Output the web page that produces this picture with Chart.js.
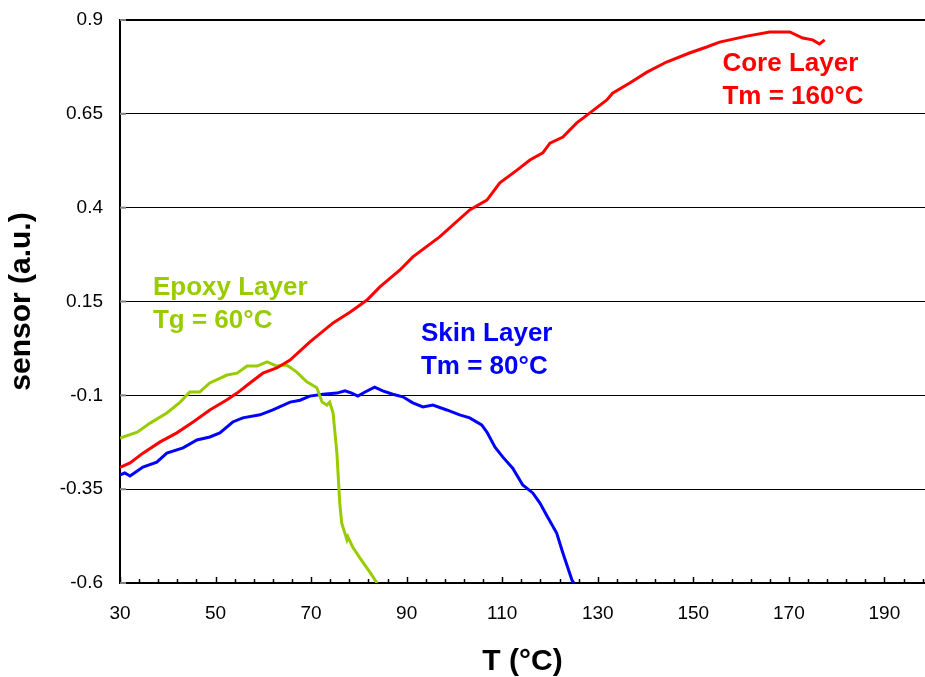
<!DOCTYPE html>
<html><head><meta charset="utf-8">
<script src="https://cdn.jsdelivr.net/npm/chart.js@4"></script>
<style>html,body{margin:0;padding:0;background:#fff}</style>
</head><body>
<canvas id="c" width="925" height="677"></canvas>
<script>
const xTicks = [30, 50, 70, 90, 110, 130, 150, 170, 190];
const yTicks = [-0.6, -0.35, -0.1, 0.15, 0.4, 0.65, 0.9];

const coreT = [30, 32.1, 34.8, 38.4, 41.9, 45.3, 48.8, 52.4, 54.5, 57.2, 59.9, 62.8, 65.6, 69.7, 74.6, 78.2, 81.7, 84.4, 88.6, 91.3, 96.9, 103.2, 106.8, 109.5, 113.1, 115.8, 118.5, 120.0, 122.7, 125.6, 128.3, 131.9, 133.1, 136.7, 140.3, 144.4, 149.2, 152.8, 155.5, 161.2, 166.0, 170.2, 172.9, 175.0, 176.4, 177.5];
const coreV = [-0.292, -0.280, -0.254, -0.224, -0.200, -0.171, -0.139, -0.112, -0.094, -0.067, -0.041, -0.027, -0.006, 0.042, 0.093, 0.122, 0.154, 0.189, 0.234, 0.269, 0.322, 0.394, 0.420, 0.466, 0.500, 0.527, 0.546, 0.572, 0.588, 0.626, 0.652, 0.687, 0.705, 0.732, 0.761, 0.788, 0.812, 0.828, 0.841, 0.857, 0.868, 0.868, 0.852, 0.847, 0.836, 0.847];

const epoxyT = [30, 33.6, 36.3, 39.8, 42.6, 44.6, 46.7, 48.8, 52.4, 54.5, 56.6, 58.7, 60.8, 62.8, 64.9, 67.0, 69.1, 71.2, 72.3, 73.3, 73.9, 74.6, 75.4, 76.0, 76.4, 77.5, 77.7, 78.7, 80.2, 82.3, 83.8];
const epoxyV = [-0.214, -0.198, -0.174, -0.147, -0.118, -0.091, -0.091, -0.067, -0.046, -0.041, -0.022, -0.022, -0.011, -0.022, -0.019, -0.038, -0.064, -0.080, -0.118, -0.126, -0.118, -0.147, -0.254, -0.387, -0.440, -0.485, -0.477, -0.504, -0.533, -0.571, -0.600];

const skinT = [30, 31.0, 32.1, 34.8, 37.7, 39.8, 43.2, 46.1, 48.8, 50.9, 53.6, 55.7, 59.3, 62.0, 65.6, 67.7, 69.7, 72.5, 75.4, 77.1, 78.5, 79.8, 81.3, 83.3, 85.0, 87.1, 89.2, 91.3, 93.4, 95.5, 98.4, 101.1, 103.2, 105.7, 106.8, 108.5, 110.1, 112.2, 114.3, 116.4, 117.9, 119.5, 121.4, 122.7, 124.6, 125.0];
const skinV = [-0.312, -0.307, -0.315, -0.291, -0.278, -0.254, -0.240, -0.219, -0.211, -0.200, -0.171, -0.160, -0.152, -0.139, -0.118, -0.113, -0.102, -0.097, -0.094, -0.088, -0.094, -0.102, -0.091, -0.078, -0.088, -0.097, -0.104, -0.120, -0.131, -0.126, -0.139, -0.152, -0.160, -0.179, -0.198, -0.238, -0.264, -0.294, -0.339, -0.360, -0.387, -0.424, -0.467, -0.520, -0.592, -0.600];

const RED = '#FF0000', GREEN = '#99CC00', BLUE = '#0000FF';
const FONT = "'Liberation Sans', Arial, Helvetica, sans-serif";

const notes = [
  { lines: ['Core Layer', 'Tm = 160°C'], color: RED, t: 156.1, v: 0.764 },
  { lines: ['Epoxy Layer', 'Tg = 60°C'], color: GREEN, t: 36.9, v: 0.167 },
  { lines: ['Skin Layer', 'Tm = 80°C'], color: BLUE, t: 93.0, v: 0.045 }
];

const pts = (T, V) => T.map((t, i) => ({ x: t, y: V[i] }));

const decor = {
  id: 'decor',
  beforeDatasetsDraw(chart) {
    const { ctx, scales: { x, y }, chartArea: ca } = chart;
    ctx.save();
    ctx.strokeStyle = '#000';
    ctx.lineWidth = 1.5;
    for (let v = x.min; v <= x.max + 1e-9; v += 4) {
      const px = Math.round(x.getPixelForValue(v)) + 0.5;
      const major = Math.abs(((v - 30) % 20)) < 1e-6;
      ctx.beginPath();
      ctx.moveTo(px, ca.bottom);
      ctx.lineTo(px, ca.bottom - (major ? 6 : 4));
      ctx.stroke();
    }
    ctx.strokeStyle = '#808080';
    ctx.lineWidth = 2;
    yTicks.forEach(v => {
      const py = y.getPixelForValue(v);
      ctx.beginPath();
      ctx.moveTo(ca.left, py);
      ctx.lineTo(ca.left + 6, py);
      ctx.stroke();
    });
    ctx.restore();
  },
  afterDraw(chart) {
    const { ctx, scales: { x, y } } = chart;
    ctx.save();
    ctx.font = `bold 26px ${FONT}`;
    ctx.textBaseline = 'alphabetic';
    ctx.textAlign = 'left';
    notes.forEach(n => {
      ctx.fillStyle = n.color;
      const px = x.getPixelForValue(n.t), py = y.getPixelForValue(n.v);
      n.lines.forEach((s, i) => ctx.fillText(s, px, py + i * 33));
    });
    ctx.restore();
  }
};

new Chart(document.getElementById('c'), {
  type: 'line',
  data: {
    datasets: [
      { label: 'Core Layer', data: pts(coreT, coreV), borderColor: RED },
      { label: 'Epoxy Layer', data: pts(epoxyT, epoxyV), borderColor: GREEN },
      { label: 'Skin Layer', data: pts(skinT, skinV), borderColor: BLUE }
    ]
  },
  options: {
    responsive: false,
    animation: false,
    layout: { padding: { top: 20, left: 0, right: 0, bottom: 0 } },
    elements: {
      line: { borderWidth: 3, tension: 0, fill: false },
      point: { radius: 0, hoverRadius: 0 }
    },
    plugins: { legend: { display: false }, tooltip: { enabled: false } },
    scales: {
      x: {
        type: 'linear',
        min: 30, max: 198.5,
        afterBuildTicks: s => { s.ticks = xTicks.map(v => ({ value: v })); },
        afterFit: s => { s.height = 94; s.paddingLeft = 0; s.paddingRight = 0; },
        grid: { display: false, drawTicks: false },
        border: { display: true, color: '#000', width: 2 },
        ticks: {
          padding: 21,
          color: '#000',
          font: { family: FONT, size: 19, lineHeight: 1 },
          maxRotation: 0, autoSkip: false,
          callback: v => String(v)
        },
        title: {
          display: true, text: 'T (°C)', color: '#000',
          font: { family: FONT, size: 30, weight: 'bold', lineHeight: 1 },
          padding: { top: 0, bottom: 0 }
        }
      },
      y: {
        type: 'linear',
        min: -0.6, max: 0.9,
        afterBuildTicks: s => { s.ticks = yTicks.map(v => ({ value: v })); },
        afterFit: s => { s.width = 120; s.paddingTop = 0; s.paddingBottom = 0; },
        grid: {
          drawTicks: false,
          color: '#000',
          lineWidth: c => (c.tick && c.tick.value === 0.9 ? 2 : 1)
        },
        border: { display: true, color: '#000', width: 2 },
        ticks: {
          padding: 17,
          color: '#000',
          font: { family: FONT, size: 19, lineHeight: 1 },
          autoSkip: false,
          callback: v => String(v)
        },
        title: {
          display: true, text: 'sensor (a.u.)', color: '#000',
          font: { family: FONT, size: 30, weight: 'bold', lineHeight: 1 },
          padding: { top: 7, bottom: 0 }
        }
      }
    }
  },
  plugins: [decor]
});
</script>
</body></html>
